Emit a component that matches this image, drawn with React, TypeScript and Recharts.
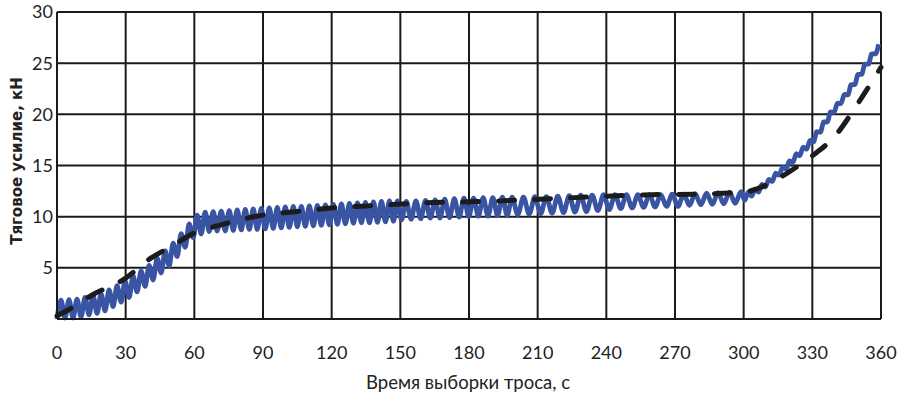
import { LineChart, Line, XAxis, YAxis, CartesianGrid, Label } from "recharts";

// time axis (s) and force axis (kN)
const X_TICKS = [0, 30, 60, 90, 120, 150, 180, 210, 240, 270, 300, 330, 360];
const Y_TICKS = [0, 5, 10, 15, 20, 25, 30];

// measured force: oscillating trace, sampled at peaks/troughs
const measuredA = [
  0.0, 1.85, 0.1, 1.9, 0.1, 1.95, 0.2, 2.1, 0.4, 2.3, 0.55, 2.45, 0.8, 2.85, 1.2,
  3.25, 1.65, 3.7, 2.1, 4.2, 2.65, 4.7, 3.2, 5.25, 3.8, 5.95, 4.5, 6.65, 5.2, 7.4,
  6.1, 8.35, 7.0, 9.3, 7.95, 10.15, 8.3, 10.45, 8.55, 10.5, 8.6, 10.55, 8.6, 10.6,
  8.65, 10.65, 8.7, 10.7, 8.75, 10.75, 8.75, 10.8, 8.8, 10.85, 8.85, 10.9, 8.9,
  10.95, 8.95, 11.0, 9.0, 11.0, 9.05, 11.05, 9.1, 11.1, 9.15, 11.15, 9.2, 11.2,
  9.25, 11.25, 9.3, 11.3, 9.35, 11.35, 9.4, 11.4, 9.4, 11.45, 9.45, 11.5, 9.5,
  11.55, 9.55, 11.55,
];
const measuredB = [
  9.7, 11.5, 9.75, 11.55, 9.8, 11.6, 9.85, 11.65, 9.85, 11.7, 9.9, 11.75, 9.95,
  11.8, 10.0, 11.8, 10.05, 11.85, 10.05, 11.85, 10.1, 11.9, 10.1, 11.9,
];
const measuredC = [
  10.2, 11.9, 10.25, 11.95, 10.3, 11.95, 10.35, 12.0, 10.4, 12.05, 10.45, 12.1,
  10.5, 12.1, 10.6, 12.15, 10.7, 12.15, 10.8, 12.15, 10.85, 12.15, 10.9, 12.15,
  10.95, 12.15, 11.0, 12.2, 11.0, 12.2, 11.1, 12.25, 11.15, 12.3, 11.2, 12.35,
  11.25, 12.4, 11.3, 12.45,
];
const measuredD = [
  11.6, 12.4, 12.0, 12.7, 12.4, 13.15, 12.9, 13.65, 13.45, 14.25, 14.05, 14.85,
  14.65, 15.45, 15.3, 16.15, 15.95, 16.8, 16.6, 17.45, 17.3, 18.3, 18.25, 19.25,
  19.25, 20.25, 20.2, 21.1, 21.05, 21.95, 21.9, 22.9, 22.9, 23.9, 23.9, 24.9,
  24.9, 25.9, 25.9, 26.85,
];
const measuredSegments = [
  { start: 0, step: 1.75, values: measuredA },
  { start: 150.5, step: 2.1, values: measuredB },
  { start: 201.3, step: 2.5, values: measuredC },
  { start: 300.5, step: 1.5, values: measuredD },
];

// calculated force (dashed)
const calcTime = [
  0, 5, 15, 30, 40, 50, 60, 70, 80, 90, 105, 120, 140, 160, 180, 200, 220, 240,
  260, 280, 300, 310, 320, 330, 340, 350, 360,
];
const calcForce = [
  0.3, 0.9, 2.3, 4.0, 5.8, 7.1, 8.4, 9.1, 9.7, 10.15, 10.5, 10.85, 11.1, 11.35,
  11.45, 11.6, 11.8, 12.0, 12.15, 12.2, 12.4, 13.1, 14.4, 15.95, 17.9, 21.1, 24.6,
];

const measuredData = measuredSegments.flatMap((s) =>
  s.values.map((v, i) => ({ t: +(s.start + i * s.step).toFixed(2), f: v }))
);
const calcData = calcTime.map((t, i) => ({ t, f: calcForce[i] }));

const GRID = "#1a1a1a";
const tickStyle = { fontFamily: "Lato", fontSize: 18, fill: "#222" };

export default function App() {
  return (
    <div style={{ position: "absolute", left: 0, top: 0, background: "#fff" }}>
      <LineChart
        width={898}
        height={394}
        margin={{ top: 12, right: 17, left: 0, bottom: 0 }}
      >
        <CartesianGrid stroke={GRID} strokeWidth={2} />
        <XAxis
          type="number"
          dataKey="t"
          domain={[0, 360]}
          ticks={X_TICKS}
          interval={0}
          height={75}
          tickLine={false}
          tickSize={25}
          axisLine={{ stroke: GRID, strokeWidth: 2 }}
          tick={tickStyle}
        >
          <Label
            content={() => (
              <text
                x={468}
                y={389}
                textAnchor="middle"
                style={{ fontFamily: "Lato", fontSize: 18.5, fill: "#222" }}
              >
                Время выборки троса, с
              </text>
            )}
          />
        </XAxis>
        <YAxis
          type="number"
          domain={[0, 30]}
          ticks={Y_TICKS}
          interval={0}
          width={57}
          tickLine={false}
          tickSize={2}
          axisLine={{ stroke: GRID, strokeWidth: 2 }}
          tick={tickStyle}
          tickFormatter={(v: number) => (v === 0 ? "" : String(v))}
        >
          <Label
            content={() => (
              <text
                x={17}
                y={161}
                transform="rotate(-90 17 161)"
                textAnchor="middle"
                dominantBaseline="central"
                style={{
                  fontFamily: "DejaVu Sans",
                  fontWeight: "bold",
                  fontSize: 15,
                  fill: "#222",
                }}
              >
                Тяговое усилие, кН
              </text>
            )}
          />
        </YAxis>
        <Line
          data={measuredData}
          dataKey="f"
          type="monotone"
          stroke="#3a54a4"
          strokeWidth={4.8}
          dot={false}
          isAnimationActive={false}
        />
        <Line
          data={calcData}
          dataKey="f"
          type="monotone"
          stroke="#1c1c1c"
          strokeWidth={5}
          strokeDasharray="16 20"
          strokeLinecap="round"
          dot={false}
          isAnimationActive={false}
        />
      </LineChart>
    </div>
  );
}
